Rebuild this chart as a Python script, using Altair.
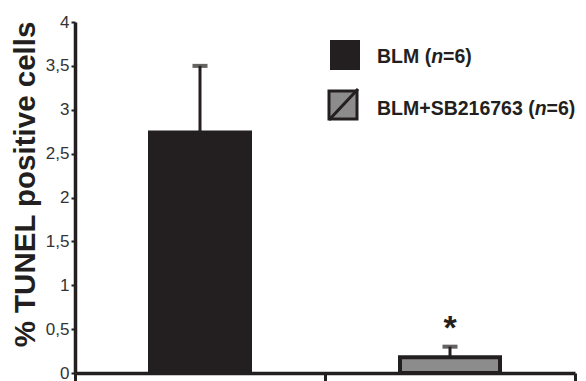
import altair as alt
import pandas as pd

groups = ["BLM", "BLM+SB216763"]
means = [2.74, 0.18]
upper = [3.50, 0.30]
n_obs = [6, 6]
y_ticks = [0, 0.5, 1, 1.5, 2, 2.5, 3, 3.5, 4]
stars = ["", "*"]

INK = "#231f20"
GRAY = "#8c8c8c"
FONT = "Liberation Sans"

df = pd.DataFrame({"group": groups, "mean": means, "upper": upper, "star": stars})

x = alt.X(
    "group:N", sort=groups,
    scale=alt.Scale(paddingInner=0, paddingOuter=0),
    axis=alt.Axis(title=None, labels=False, tickBand="extent", tickSize=8,
                  tickWidth=3, tickColor=INK, domainColor=INK, domainWidth=3.5),
)
y = alt.Y(
    "mean:Q",
    scale=alt.Scale(domain=[0, 4]),
    axis=alt.Axis(values=y_ticks,
                  labelExpr="replace(toString(datum.value), '.', ',')",
                  title="% TUNEL positive cells", titleFont=FONT, titleFontSize=29.5,
                  titleFontWeight="bold", titleColor=INK, titlePadding=5, titleY=162,
                  labelFont=FONT, labelFontSize=17, labelColor="#333333",
                  labelPadding=2, tickSize=4, tickWidth=2, tickColor=INK,
                  domainColor=INK, domainWidth=3.5),
)

base = alt.Chart(df)
bars = base.mark_bar(width=alt.RelativeBandSize(0.4), stroke=INK, strokeWidth=4).encode(
    x=x, y=y,
    color=alt.Color("group:N", scale=alt.Scale(domain=groups, range=[INK, GRAY]), legend=None),
)
err = base.mark_rule(color=INK, strokeWidth=3).encode(x=x, y="mean:Q", y2="upper:Q")
cap = base.mark_tick(color=INK, thickness=4, size=15, orient="horizontal").encode(x=x, y="upper:Q")
star = base.mark_text(font=FONT, fontSize=34, fontWeight="bold", color=INK, dy=-18).encode(
    x=x, y="upper:Q", text="star:N")

# manual legend
def one(v):
    return pd.DataFrame({"v": [v]})

leg1_sym = alt.Chart(one(groups[0])).mark_square(size=900, color=INK, opacity=1).encode(
    x=alt.value(270), y=alt.value(33))
leg2_sym = alt.Chart(one(groups[1])).mark_square(size=784, fill=GRAY, stroke=INK, strokeWidth=3, opacity=1).encode(
    x=alt.value(268), y=alt.value(83))
leg2_diag = alt.Chart(one(groups[1])).mark_rule(color=INK, strokeWidth=3).encode(
    x=alt.value(254), y=alt.value(98), x2=alt.value(283), y2=alt.value(67))

def txt(s, xpos, ypos, italic=False):
    return alt.Chart(one(s)).mark_text(
        font=FONT, fontSize=19.5, fontWeight="bold", fontStyle="italic" if italic else "normal",
        color=INK, align="left", baseline="middle").encode(
        x=alt.value(xpos), y=alt.value(ypos), text="v:N")

fs = 19.5
w1 = 2.777 * fs
w2 = 8.086 * fs
wn = 0.611 * fs
legend_text = [
    txt(groups[0] + " (", 302, 35), txt("n", 302 + w1, 35, True), txt(f"={n_obs[0]})", 302 + w1 + wn, 35),
    txt(groups[1] + " (", 302, 87), txt("n", 302 + w2, 87, True), txt(f"={n_obs[1]})", 302 + w2 + wn, 87),
]

chart = alt.layer(bars, err, cap, star, leg1_sym, leg2_sym, leg2_diag, *legend_text).properties(
    width=500, height=351,
    padding={"left": 2, "top": 5, "right": 0, "bottom": 0},
    background="white",
).configure_view(stroke=None).configure_axis(grid=False)

chart.save("out.html", embed_options={"renderer": "svg", "actions": False})
